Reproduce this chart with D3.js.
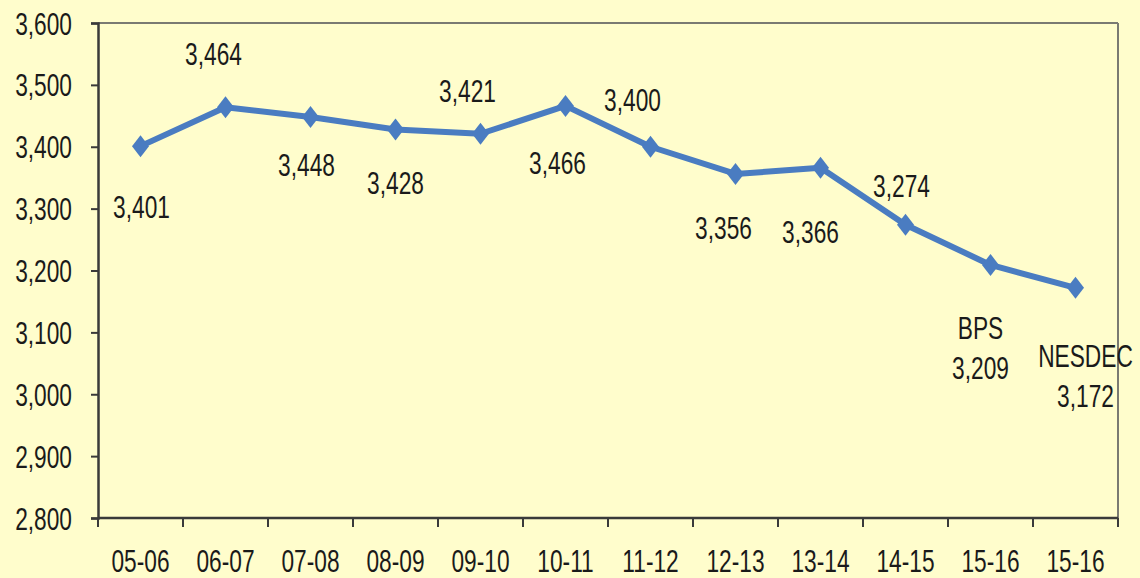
<!DOCTYPE html>
<html>
<head>
<meta charset="utf-8">
<script src="https://cdn.jsdelivr.net/npm/d3@7"></script>
<style>
  body { margin: 0; background: #fffdcc; }
  svg text { font-family: "Liberation Sans", Arial, sans-serif; fill: #1a1a1a; }
</style>
</head>
<body>
<script>
// data
const years = ['05-06','06-07','07-08','08-09','09-10','10-11','11-12','12-13','13-14','14-15','15-16','15-16 '];
const values = [3401, 3464, 3448, 3428, 3421, 3466, 3400, 3356, 3366, 3274, 3209, 3172];
const labelPrefix = ['', '', '', '', '', '', '', '', '', '', 'BPS', 'NESDEC'];
const yTicks = [2800, 2900, 3000, 3100, 3200, 3300, 3400, 3500, 3600];

// label nudges (layout only)
const labelDx = [1, -12, -4, 0, -13, -8, -18, -12, -10, -4, -10, 10];
const labelDy = [60, -54, 47, 53, -43, 57, -47, 53, 64, -39, 103, 108];

const W = 1140, H = 578;
const margin = {top: 23, right: 22, bottom: 60, left: 98};
const width = W - margin.left - margin.right;
const height = H - margin.top - margin.bottom;
const FS = 32, SX = 0.71;   // narrow look: scale text horizontally

const svg = d3.select('body').append('svg')
    .attr('width', W)
    .attr('height', H);

svg.append('rect').attr('width', W).attr('height', H).attr('fill', '#fffdcc');

const g = svg.append('g')
    .attr('transform', 'translate(' + margin.left + ',' + margin.top + ')');

const x = d3.scaleBand().domain(years).range([0, width]);
const y = d3.scaleLinear().domain([2800, 3600]).range([height, 0]);

// put a condensed text at (px,py)
function narrowText(sel, px, py, anchor, txt) {
  return sel.append('g')
    .attr('transform', 'translate(' + px + ',' + py + ')')
    .append('text')
      .attr('transform', 'scale(' + SX + ',1)')
      .attr('text-anchor', anchor)
      .attr('dy', '0.36em')
      .attr('font-size', FS)
      .text(txt);
}

// frame top / right
g.append('line').attr('x1', 0).attr('x2', width).attr('y1', 0).attr('y2', 0)
  .attr('stroke', '#7a7a72').attr('stroke-width', 2);
g.append('line').attr('x1', width).attr('x2', width).attr('y1', 0).attr('y2', height)
  .attr('stroke', '#7a7a72').attr('stroke-width', 2);

// y axis
const yAxis = g.append('g')
  .call(d3.axisLeft(y).tickValues(yTicks).tickSize(7).tickFormat(''));
yAxis.select('.domain').attr('stroke', '#3a3a3a').attr('stroke-width', 2.5);
yAxis.selectAll('.tick line').attr('stroke', '#3a3a3a').attr('stroke-width', 2);
yTicks.forEach(t => narrowText(g, -26, y(t), 'end', d3.format(',')(t)));

// x axis: ticks at category boundaries
const xAxisG = g.append('g').attr('transform', 'translate(0,' + height + ')');
xAxisG.append('line').attr('x1', 0).attr('x2', width).attr('stroke', '#3a3a3a').attr('stroke-width', 2.5);
const bounds = years.map(d => x(d)).concat([width]);
xAxisG.selectAll('.bt').data(bounds).enter().append('line')
  .attr('x1', d => d).attr('x2', d => d).attr('y1', 0).attr('y2', 9)
  .attr('stroke', '#3a3a3a').attr('stroke-width', 2);
years.forEach(d => narrowText(xAxisG, x(d) + x.bandwidth() / 2, 42, 'middle', d.trim()));

// line
const pts = years.map((d, i) => ({cat: d, v: values[i], i: i}));
const cx = d => x(d.cat) + x.bandwidth() / 2;
const line = d3.line().x(cx).y(d => y(d.v));
g.append('path').datum(pts)
  .attr('fill', 'none')
  .attr('stroke', '#4a7cc1')
  .attr('stroke-width', 6)
  .attr('stroke-linejoin', 'round')
  .attr('d', line);

// diamonds
g.selectAll('.mk').data(pts).enter().append('path')
  .attr('d', 'M0,-11 L8.5,0 L0,11 L-8.5,0 Z')
  .attr('fill', '#4a7cc1')
  .attr('transform', d => 'translate(' + cx(d) + ',' + y(d.v) + ')');

// data labels
pts.forEach(d => {
  const lx = cx(d) + labelDx[d.i], ly = y(d.v) + labelDy[d.i];
  narrowText(g, lx, ly, 'middle', d3.format(',')(d.v));
  if (labelPrefix[d.i] !== '') narrowText(g, lx, ly - 40, 'middle', labelPrefix[d.i]);
});
</script>
</body>
</html>
